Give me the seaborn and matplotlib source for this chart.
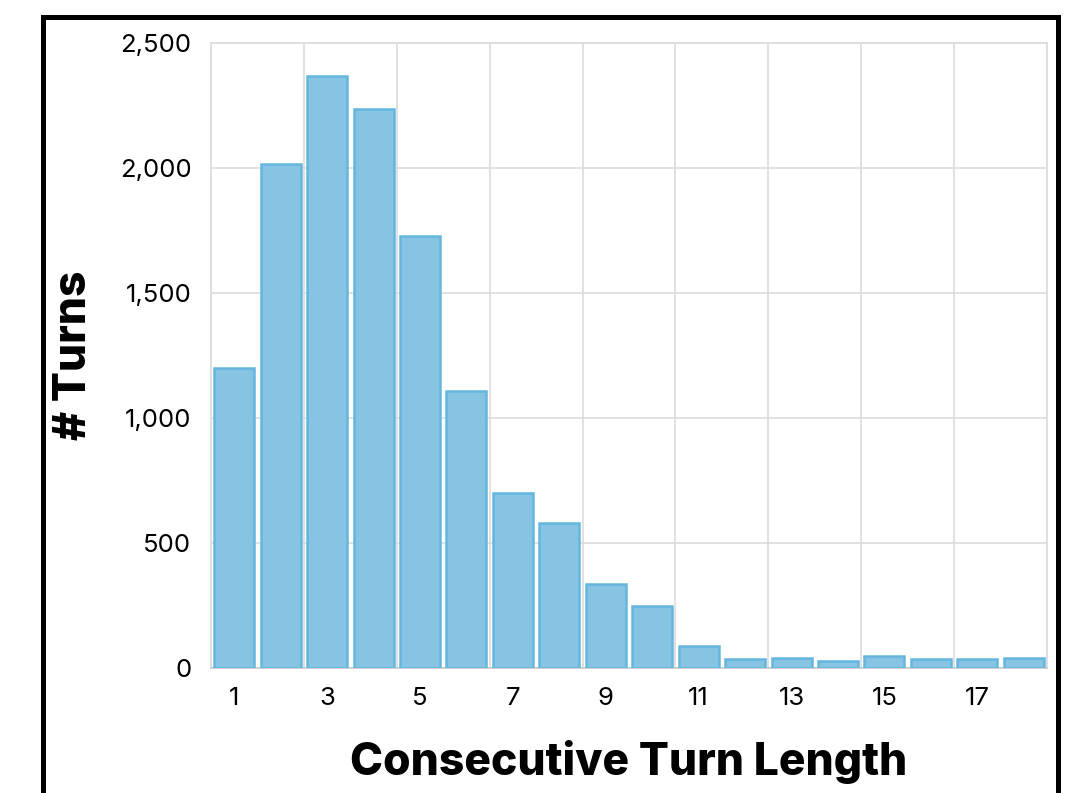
import matplotlib
matplotlib.use("Agg")
import matplotlib.pyplot as plt
import seaborn as sns
from pandas import DataFrame
from matplotlib.patches import Rectangle
from matplotlib.ticker import FuncFormatter

# turn lengths 1..18 and the number of turns for each
turn_length = [str(i) for i in range(1, 19)]
turn_count = [1200, 2015, 2370, 2235, 1730, 1110, 700, 582, 335, 250,
              90, 38, 41, 30, 48, 35, 37, 40]

sns.set_theme(style="white")
plt.rcParams['font.family'] = ['Inter', 'DejaVu Sans']
plt.rcParams['text.color'] = 'black'
plt.rcParams['axes.labelcolor'] = 'black'

df = DataFrame({'length': turn_length, 'turns': turn_count})

fig = plt.figure(figsize=(10.81, 7.93), dpi=100)
ax = fig.add_axes([211/1081, 1-668/793, (1047-211)/1081, (668-43)/793])

sns.barplot(data=df, x='length', y='turns', order=turn_length, ax=ax,
            color='#87c3e3', saturation=1, width=0.86,
            edgecolor='#64b6de', linewidth=1.8, zorder=3)

ax.set_xlim(-0.5, 17.5)
ax.set_ylim(0, 2500)
ax.set_yticks([0, 500, 1000, 1500, 2000, 2500])
ax.yaxis.set_major_formatter(FuncFormatter(lambda v, p: f'{int(v):,}'))

ax.set_xticks(range(0, 18, 2))
ax.set_xticklabels(turn_length[::2])
ax.set_xticks([i - 0.5 for i in range(0, 19, 2)], minor=True)

ax.grid(False)
ax.yaxis.grid(True, color='#dcdcdc', linewidth=1.2, zorder=0)
ax.xaxis.grid(True, which='minor', color='#dcdcdc', linewidth=1.2, zorder=0)
for s in ax.spines.values():
    s.set_color('#dcdcdc')
    s.set_linewidth(1.2)
ax.spines['bottom'].set_color('#c8c8c8')

ax.tick_params(axis='both', which='both', length=0, labelsize=18.5, colors='black')
ax.tick_params(axis='y', pad=14)
ax.tick_params(axis='x', pad=14)

ax.set_xlabel('Consecutive Turn Length', fontsize=32, fontweight=800,
              color='black', labelpad=21)
ax.set_ylabel('# Turns', fontsize=32, fontweight=800,
              color='black', labelpad=18)

# black frame around the figure, open at the bottom edge
fig.patches.append(Rectangle((43/1081, -0.1), (1058-43)/1081, 1.1-17/793,
                             transform=fig.transFigure, fill=False,
                             edgecolor='black', linewidth=3.6, clip_on=False))

fig.savefig('out.png', dpi=100)
